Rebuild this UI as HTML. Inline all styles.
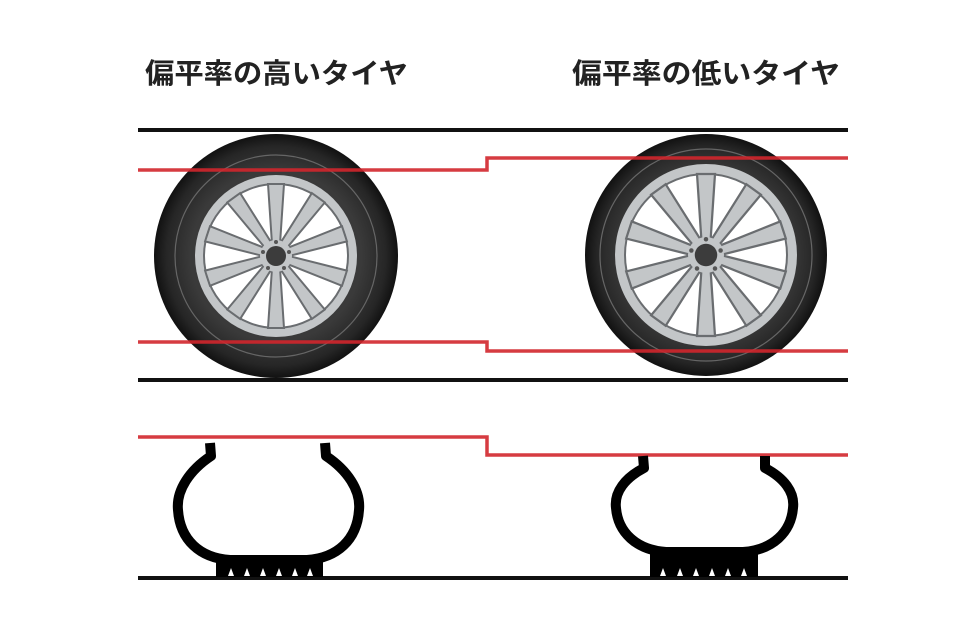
<!DOCTYPE html>
<html><head><meta charset="utf-8"><style>
html,body{margin:0;padding:0;background:#fff;}
svg{display:block;}
text{font-family:"Liberation Sans","Noto Sans CJK JP",sans-serif;font-weight:bold;fill:#222;}
</style></head><body>
<svg width="964" height="642" viewBox="0 0 964 642" xmlns="http://www.w3.org/2000/svg">
<defs>
<radialGradient id="tg" cx="0.5" cy="0.5" r="0.5">
<stop offset="0.7" stop-color="#3a3a3a"/><stop offset="0.9" stop-color="#262626"/><stop offset="1" stop-color="#111"/>
</radialGradient>
<g id="spoke"><polygon points="-4,-12 4,-12 8,-72 -8,-72" fill="#c3c6c8" stroke="#6a6d70" stroke-width="2"/></g>
<g id="spokes">
<use href="#spoke"/><use href="#spoke" transform="rotate(36)"/><use href="#spoke" transform="rotate(72)"/><use href="#spoke" transform="rotate(108)"/><use href="#spoke" transform="rotate(144)"/><use href="#spoke" transform="rotate(180)"/><use href="#spoke" transform="rotate(216)"/><use href="#spoke" transform="rotate(252)"/><use href="#spoke" transform="rotate(288)"/><use href="#spoke" transform="rotate(324)"/>
</g>
<g id="hub">
<circle r="16" fill="#c3c6c8"/>
<circle r="10" fill="#3c3c3c"/>
<circle cx="0" cy="-14" r="2" fill="#555"/><circle cx="13" cy="-4" r="2" fill="#555"/><circle cx="8" cy="12" r="2" fill="#555"/><circle cx="-8" cy="12" r="2" fill="#555"/><circle cx="-13" cy="-4" r="2" fill="#555"/>
</g>
</defs>

<text x="145" y="83" font-size="28" textLength="263" lengthAdjust="spacingAndGlyphs">偏平率の高いタイヤ</text>
<text x="572" y="83" font-size="28" textLength="268" lengthAdjust="spacingAndGlyphs">偏平率の低いタイヤ</text>

<!-- left wheel -->
<circle cx="276" cy="256" r="122" fill="url(#tg)"/>
<circle cx="276" cy="256" r="101" fill="none" stroke="#666" stroke-width="1.2"/>
<circle cx="276" cy="256" r="81" fill="#c3c6c8"/>
<circle cx="276" cy="256" r="72" fill="#fff" stroke="#6a6d70" stroke-width="2"/>
<g transform="translate(276,256)"><use href="#spokes"/><use href="#hub"/></g>

<!-- right wheel -->
<circle cx="706" cy="255" r="121" fill="url(#tg)"/>
<circle cx="706" cy="255" r="106" fill="none" stroke="#666" stroke-width="1.2"/>
<circle cx="706" cy="255" r="91" fill="#c3c6c8"/>
<circle cx="706" cy="255" r="81" fill="#fff" stroke="#6a6d70" stroke-width="2"/>
<g transform="translate(706,255) scale(1.125)"><use href="#spokes"/><use href="#hub"/></g>

<!-- black lines -->
<rect x="138" y="128" width="710" height="4" fill="#111"/>
<rect x="138" y="378" width="710" height="4" fill="#111"/>
<rect x="138" y="576" width="710" height="4" fill="#111"/>

<!-- red lines -->
<g fill="none" stroke="#d2262c" stroke-width="3.5" opacity="0.9">
<polyline points="138,170 487,170 487,158 848,158"/>
<polyline points="138,342 487,342 487,351 848,351"/>
<polyline points="138,437 487,437 487,455 848,455"/>
</g>

<!-- left cross-section -->
<path d="M210,443 L211,456 C190,470 176,490 178,510 C180,540 200,558 230,560 L307,560 C337,558 357,540 359,510 C361,490 347,470 326,456 L325,443" fill="none" stroke="#000" stroke-width="10" stroke-linejoin="round"/>
<rect x="216" y="556" width="107" height="21" fill="#000"/>
<g fill="#fff">
<polygon points="228,576 231,568 234,576"/><polygon points="244,576 247,568 250,576"/><polygon points="260,576 263,568 266,576"/><polygon points="276,576 279,568 282,576"/><polygon points="292,576 295,568 298,576"/><polygon points="307,576 310,568 313,576"/>
</g>

<!-- right cross-section -->
<path d="M643,456 L644,468 C625,478 614,492 616,508 C618,532 636,550 666,552 L743,552 C773,550 791,532 793,508 C795,492 784,478 765,468 L765,456" fill="none" stroke="#000" stroke-width="10" stroke-linejoin="round"/>
<rect x="650" y="550" width="108" height="27" fill="#000"/>
<g fill="#fff">
<polygon points="660,576 663,568 666,576"/><polygon points="677,576 680,568 683,576"/><polygon points="693,576 696,568 699,576"/><polygon points="709,576 712,568 715,576"/><polygon points="725,576 728,568 731,576"/><polygon points="741,576 744,568 747,576"/>
</g>
</svg>
</body></html>
